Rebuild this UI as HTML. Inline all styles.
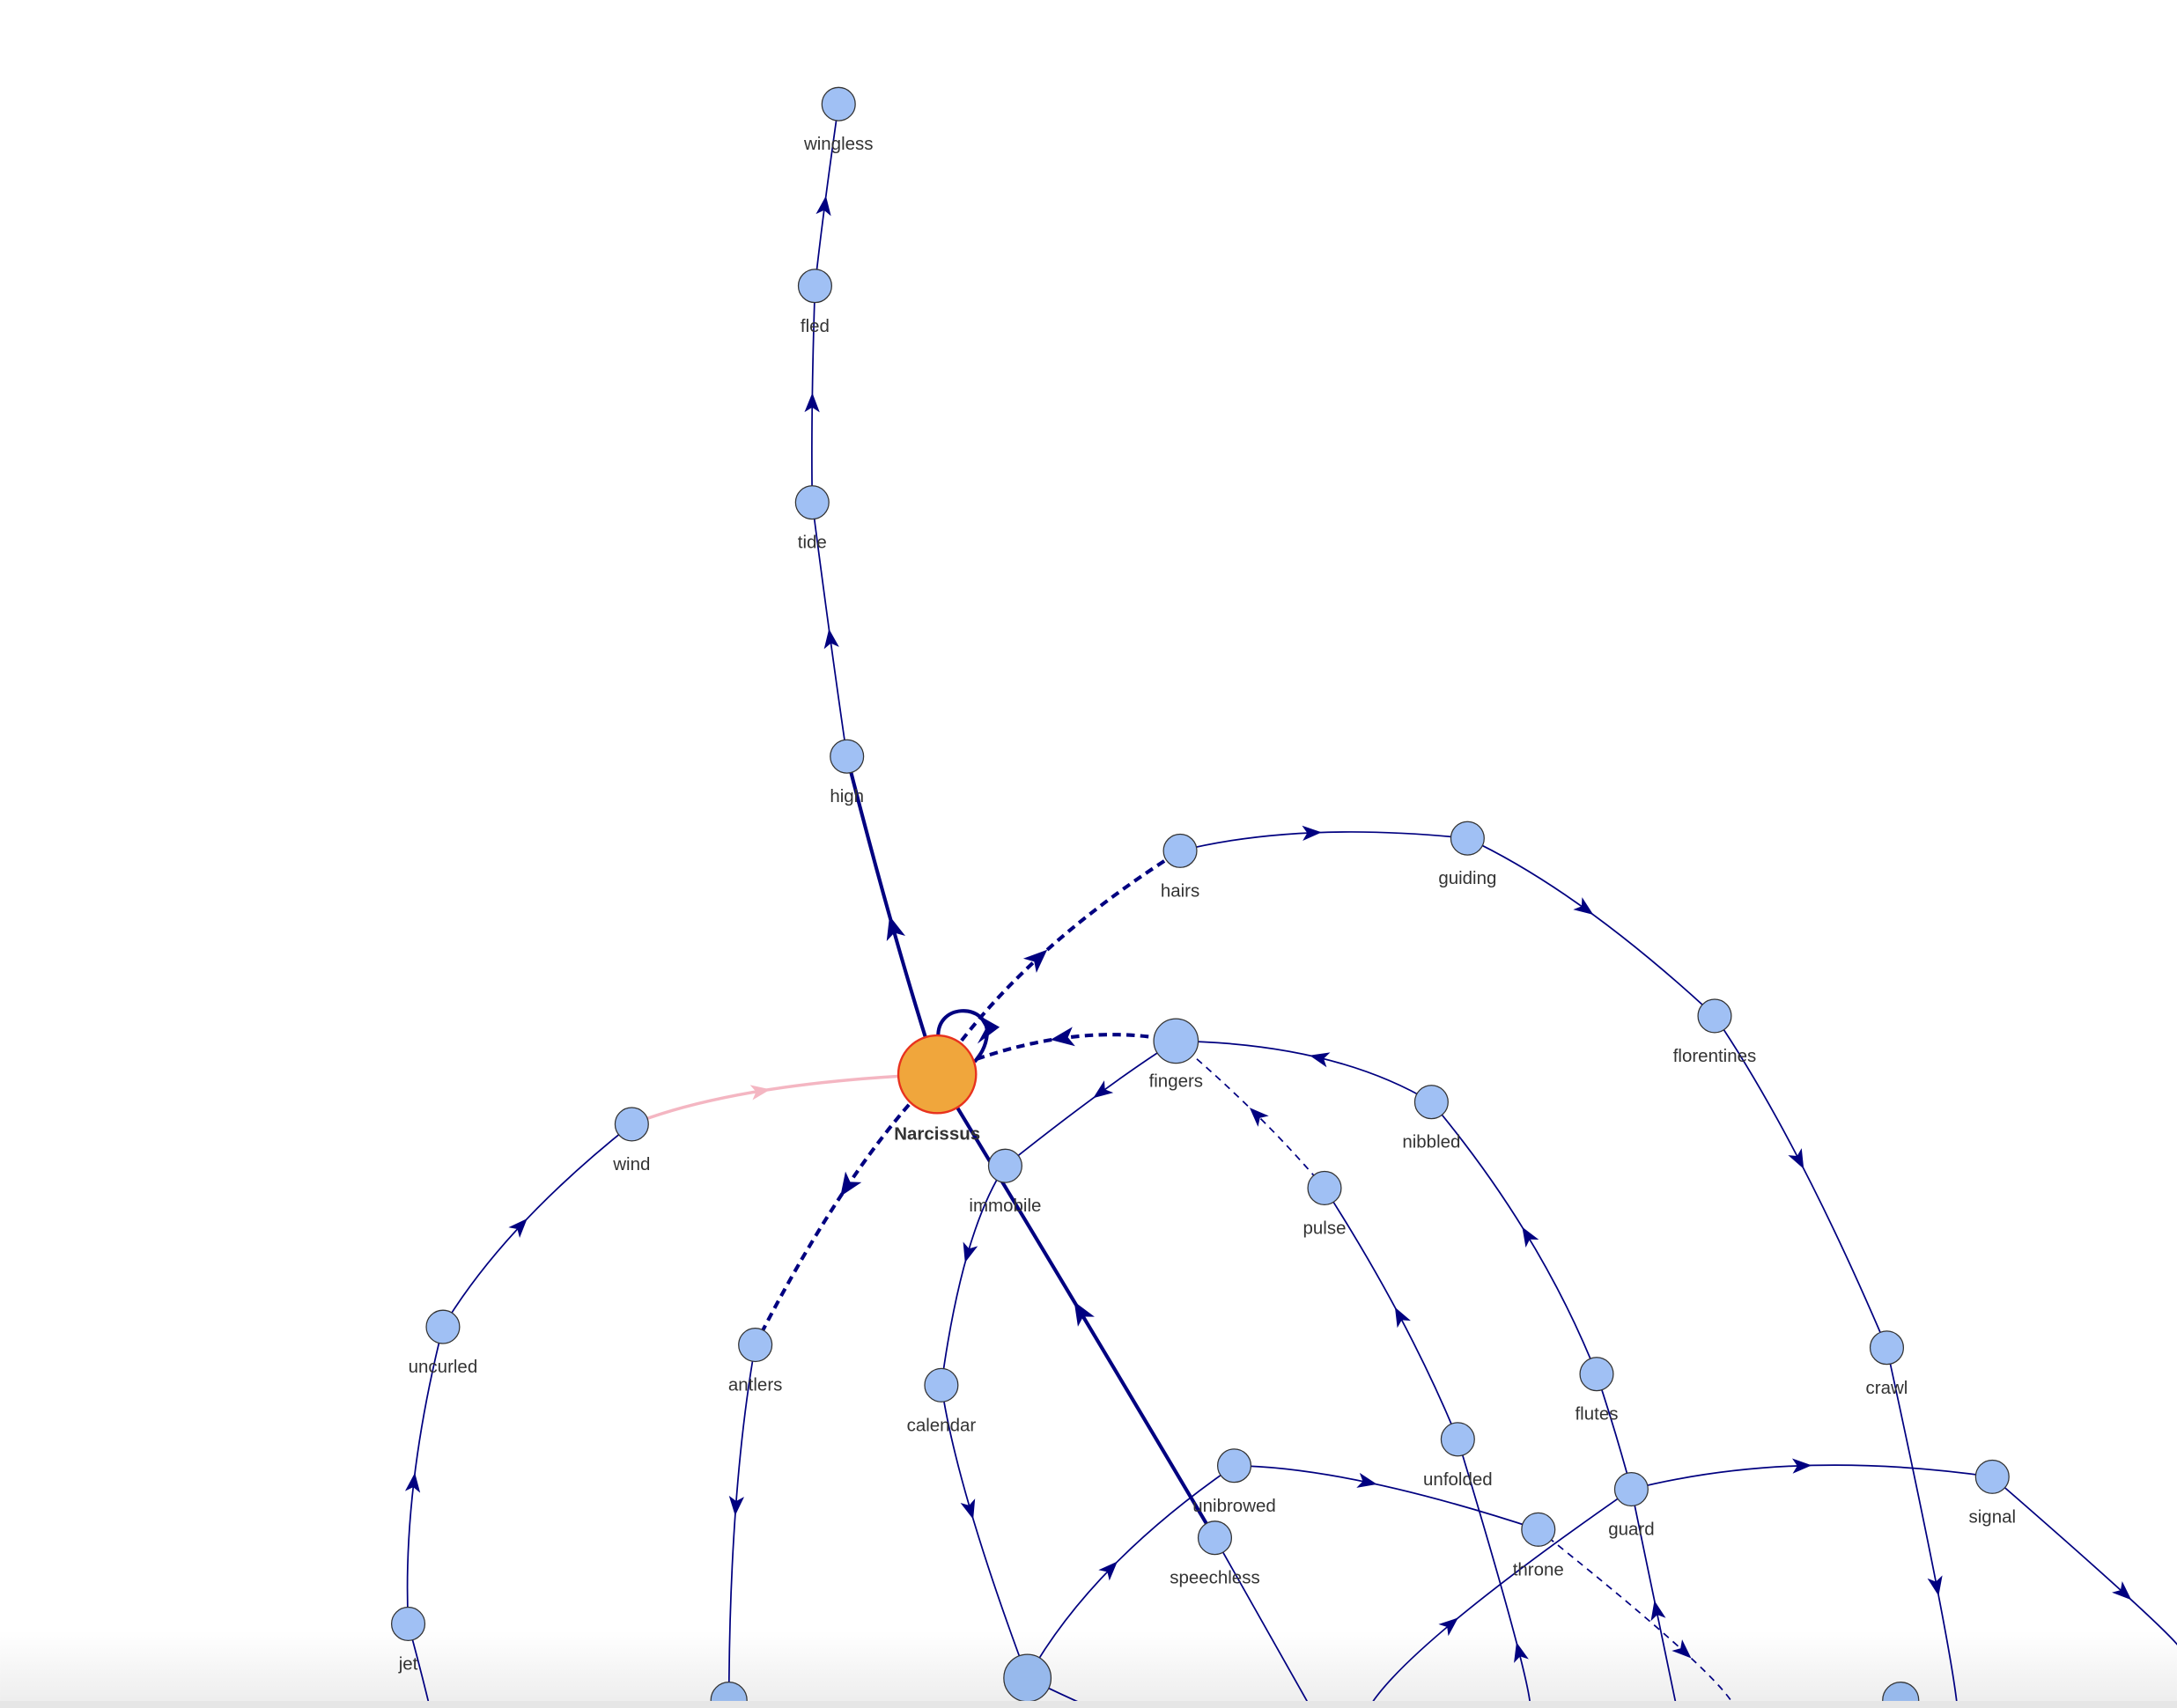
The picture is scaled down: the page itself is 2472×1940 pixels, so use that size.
<!DOCTYPE html>
<html><head><meta charset="utf-8"><style>
html,body{margin:0;padding:0;background:#fff;}
svg{display:block;}
text{font-family:"Liberation Sans",Arial,sans-serif;font-size:13px;fill:#333;text-anchor:middle;}
</style></head><body>
<svg id="g" width="2472" height="1940" viewBox="0 0 1568 1230.6">
<defs><linearGradient id="bg" x1="0" y1="0" x2="0" y2="1"><stop offset="0" stop-color="#fff"/><stop offset="1" stop-color="#ececec"/></linearGradient></defs>
<rect x="0" y="1175" width="1568" height="56" fill="url(#bg)"/>
<g id="edges"></g><g id="nodes"></g>
<rect x="0" y="1225.5" width="1568" height="6" fill="#e6e6e6"/>
</svg>
<script>
const nodeNames=["wingless","fled","tide","high","hairs","guiding","florentines","fingers","nibbled","Narcissus","wind","immobile","pulse","uncurled","antlers","crawl","calendar","flutes","unfolded","unibrowed","guard","signal","throne","speechless","jet","b1","b2","b3"];
const nodeX=[604,587,585,610,850,1057,1235,847,1031,675,455,724,954,319,544,1359,678,1150,1050,889,1175,1435,1108,875,294,525,740,1369];
const nodeY=[75,206,362,545,613,604,732,750,794,774,810,840,856,956,969,971,998,990,1037,1056,1073,1064,1102,1108,1170,1225,1209,1225];
const nodeR=[12,12,12,12,12,12,12,16,12,28,12,12,12,12,12,12,12,12,12,12,12,12,12,12,12,13,17,13];
const offX={o1:310,o2:1410,o3:1100,o4:945,o5:1250,o6:985,o7:1208,o8:1570,o9:785};
const offY={o1:1232,o2:1232,o3:1232,o4:1232,o5:1232,o6:1232,o7:1232,o8:1187,o9:1230};
// from, to, arrowX, arrowY, style (t=thin, T=thick, d=dashed thin, D=dashed thick, p=pink), arrow(1/0)
const edges=[
["wind","Narcissus",548,786,"p",1],["uncurled","wind",375,883,"t",1],["jet","uncurled",298,1068,"t",1],["o1","jet",302,1200,"t",0],
["high","tide",598,460,"t",1],["tide","fled",585,290,"t",1],["fled","wingless",594,148,"t",1],
["Narcissus","high",643,668,"T",1],["Narcissus","hairs",748,690,"D",1],["hairs","guiding",945,600,"t",1],
["guiding","florentines",1142,655,"t",1],["florentines","crawl",1296,836,"t",1],["crawl","o2",1395,1143,"t",1],
["fingers","Narcissus",765,748,"D",1],["nibbled","fingers",950,762,"t",1],["flutes","nibbled",1100,890,"t",1],
["guard","flutes",1163,1031,"t",0],["fingers","immobile",793,787,"t",1],["pulse","fingers",905,803,"d",1],
["unfolded","pulse",1008,948,"t",1],["o3","unfolded",1094,1190,"t",1],["Narcissus","antlers",610,855,"D",1],
["antlers","b1",530,1085,"t",1],["immobile","calendar",697,903,"t",1],["calendar","b2",699,1088,"t",1],
["b2","unibrowed",800,1130,"t",1],["unibrowed","throne",985,1068,"t",1],["speechless","Narcissus",778,945,"T",1],
["speechless","o4",910,1170,"t",0],["throne","o5",1213,1190,"d",1],["o6","guard",1045,1170,"t",1],
["guard","signal",1298,1056,"t",1],["o7","guard",1193,1160,"t",1],["signal","o8",1530,1148,"t",1],["b2","o9",763,1220,"t",0]
];
const NS="http://www.w3.org/2000/svg";
function pos(n){const i=nodeNames.indexOf(n);return i>=0?[nodeX[i],nodeY[i]]:[offX[n],offY[n]];}
const eg=document.getElementById("edges"),ng=document.getElementById("nodes");
const styles={t:["#000080",1.1,null],T:["#000080",2.6,null],d:["#000080",1.1,"5,4"],D:["#000080",2.6,"6,4"],p:["#f4b6c2",2.2,null]};
edges.forEach(e=>{
 const [a,b,mx,my,s,ar]=e;const p0=pos(a),p2=pos(b);
 const cx=2*mx-(p0[0]+p2[0])/2, cy=2*my-(p0[1]+p2[1])/2;
 const st=styles[s];
 const path=document.createElementNS(NS,"path");
 path.setAttribute("d",`M${p0[0]},${p0[1]} Q${cx},${cy} ${p2[0]},${p2[1]}`);
 path.setAttribute("fill","none");path.setAttribute("stroke",st[0]);path.setAttribute("stroke-width",st[1]);
 if(st[2])path.setAttribute("stroke-dasharray",st[2]);
 
 
 eg.appendChild(path);
 if(ar){
  let dx=p2[0]-p0[0],dy=p2[1]-p0[1];const L=Math.hypot(dx,dy);dx/=L;dy/=L;
  const l=s==="T"||s==="D"?17:14,w=s==="T"||s==="D"?7:5.5;
  const tx=mx+dx*l/2,ty=my+dy*l/2,bx=mx-dx*l/2,by=my-dy*l/2;
  const pol=document.createElementNS(NS,"polygon");
  pol.setAttribute("points",`${tx},${ty} ${bx-dy*w},${by+dx*w} ${mx-dx*l*0.25},${my-dy*l*0.25} ${bx+dy*w},${by-dx*w}`);
  pol.setAttribute("fill",s==="p"?"#f4b6c2":"#000080");
  
  
  eg.appendChild(pol);
 }
});
// self loop
const loop=document.createElementNS(NS,"path");
loop.setAttribute("d","M676,750 C672,722 712,722 711,745 C710,755 706,760 702,765");
loop.setAttribute("fill","none");loop.setAttribute("stroke","#000080");loop.setAttribute("stroke-width","2.6");


eg.appendChild(loop);
const la=document.createElementNS(NS,"polygon");
la.setAttribute("points","720,740 704,731 710,741 704,752");la.setAttribute("fill","#000080");


eg.appendChild(la);
nodeNames.forEach((n,i)=>{
 const c=document.createElementNS(NS,"circle");
 c.setAttribute("cx",nodeX[i]);c.setAttribute("cy",nodeY[i]);c.setAttribute("r",nodeR[i]);
 const main=n==="Narcissus";
 c.setAttribute("fill",main?"#f0a63c":(n[0]==="b"&&n.length===2?"#97b9ec":"#a0c0f4"));
 c.setAttribute("stroke",main?"#e8321e":"#333");c.setAttribute("stroke-width",main?1.5:0.8);
 
 
 ng.appendChild(c);
 if(!(n[0]==="b"&&n.length===2)){
  const t=document.createElementNS(NS,"text");
  t.setAttribute("x",nodeX[i]);t.setAttribute("y",nodeY[i]+(main?47:33));
  if(main)t.setAttribute("font-weight","bold");
  t.textContent=n;
  
  
  ng.appendChild(t);
 }
});
</script>
</body></html>
